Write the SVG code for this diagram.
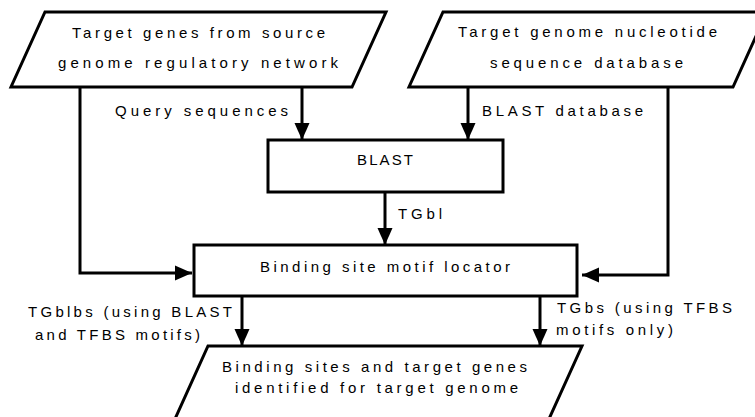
<svg xmlns="http://www.w3.org/2000/svg" width="755" height="417" viewBox="0 0 755 417">
<style>
.shape{fill:#fff;stroke:#000;stroke-width:3;stroke-linejoin:miter}
.conn{fill:none;stroke:#000;stroke-width:3}
text{font-family:"Liberation Sans",Arial,sans-serif;font-size:15px;fill:#000}
</style>
<defs>
<marker id="arr" markerUnits="userSpaceOnUse" markerWidth="18" markerHeight="16" refX="17" refY="7.5" orient="auto" viewBox="0 0 18 15">
<path d="M0,0 L17,7.5 L0,15 Z" fill="#000"/>
</marker>
</defs>
<rect width="755" height="417" fill="#fff"/>
<g id="connectors">
<polyline class="conn" points="80,87 80,273 192,273" marker-end="url(#arr)"/>
<line class="conn" x1="302" y1="87" x2="302" y2="140" marker-end="url(#arr)"/>
<line class="conn" x1="468" y1="87" x2="468" y2="140" marker-end="url(#arr)"/>
<polyline class="conn" points="668,87 668,275 582,275" marker-end="url(#arr)"/>
<line class="conn" x1="385" y1="192" x2="385" y2="245" marker-end="url(#arr)"/>
<line class="conn" x1="242" y1="296" x2="242" y2="346" marker-end="url(#arr)"/>
<line class="conn" x1="540" y1="296" x2="540" y2="346" marker-end="url(#arr)"/>
<text x="115" y="116" textLength="173" lengthAdjust="spacing">Query sequences</text>
<text x="482" y="116" textLength="161" lengthAdjust="spacing">BLAST database</text>
<text x="398" y="219" textLength="44" lengthAdjust="spacing">TGbl</text>
<text x="28" y="317" textLength="204" lengthAdjust="spacing">TGblbs (using BLAST</text>
<text x="35" y="340" textLength="165" lengthAdjust="spacing">and TFBS motifs)</text>
<text x="557" y="313" textLength="175" lengthAdjust="spacing">TGbs (using TFBS</text>
<text x="556" y="335" textLength="117" lengthAdjust="spacing">motifs only)</text>
</g>
<g id="source-genes">
<polygon class="shape" points="45,12 386,12 352,87 11,87"/>
<text x="72" y="38" textLength="253" lengthAdjust="spacing">Target genes from source</text>
<text x="58" y="68" textLength="280" lengthAdjust="spacing">genome regulatory network</text>
</g>
<g id="nucleotide-db">
<polygon class="shape" points="443,12 767,12 733,87 409,87"/>
<text x="458" y="37" textLength="259" lengthAdjust="spacing">Target genome nucleotide</text>
<text x="490" y="68" textLength="193" lengthAdjust="spacing">sequence database</text>
</g>
<g id="blast">
<rect class="shape" x="268" y="140" width="235" height="52"/>
<text x="385" y="165" text-anchor="middle" textLength="56" lengthAdjust="spacing">BLAST</text>
</g>
<g id="motif-locator">
<rect class="shape" x="194" y="245" width="383" height="51"/>
<text x="260" y="272" textLength="250" lengthAdjust="spacing">Binding site motif locator</text>
</g>
<g id="results">
<polygon class="shape" points="208,346 582,346 544,430 170,430"/>
<text x="222" y="372" textLength="305" lengthAdjust="spacing">Binding sites and target genes</text>
<text x="235" y="393" textLength="283" lengthAdjust="spacing">identified for target genome</text>
</g>
</svg>
